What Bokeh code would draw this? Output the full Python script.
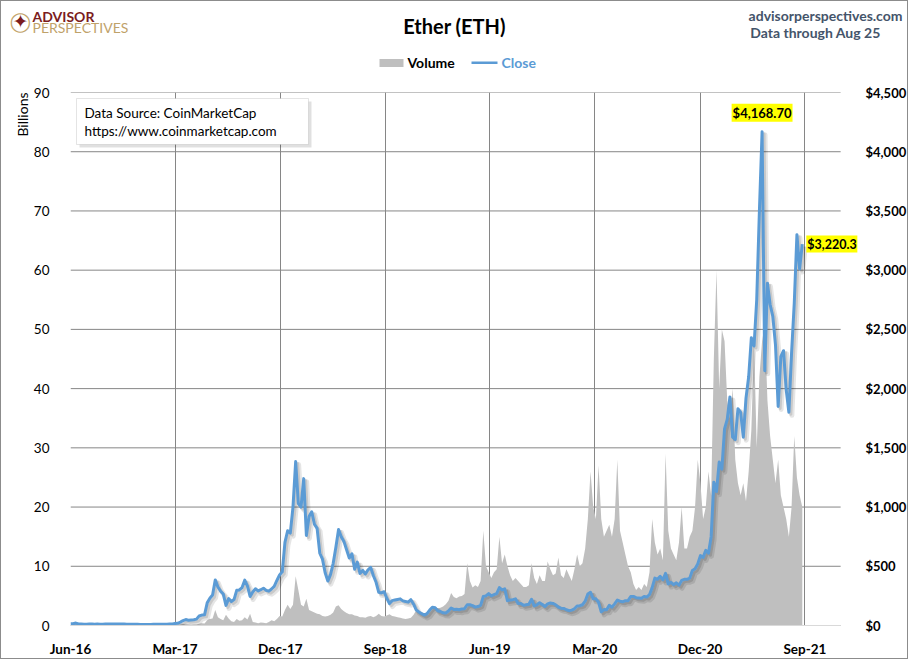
import numpy as np
import pandas as pd
from bokeh.plotting import figure
from bokeh.models import (Range1d, LinearAxis, FixedTicker, DatetimeTickFormatter,
                          NumeralTickFormatter, Label, BoxAnnotation, ColumnDataSource, Title)
from bokeh.transform import dodge
from bokeh.embed import file_html
from bokeh.resources import INLINE

# ---------------- data (weekly) ----------------
# Ether close price, USD, weekly from 2016-06-01 to 2021-08-25
close_2016 = [
    14.0, 14.6, 20.6, 13.4, 12.5,      # Jun
    10.5, 11.2, 12.6, 12.9,            # Jul
    10.1, 11.8, 10.8, 11.0, 11.9,      # Aug
    11.7, 12.0, 13.1, 13.2,            # Sep
    12.6, 11.8, 12.0, 11.2,            # Oct
    10.8, 10.5, 10.0, 9.7, 8.6,        # Nov
    8.4, 8.2, 7.6, 7.9,                # Dec
]
close_2017 = [
    11.0, 9.9, 10.4, 10.5,             # Jan
    10.7, 11.4, 12.9, 12.7,            # Feb
    16.3, 18.9, 28.6, 41.6, 50.0,      # Mar
    44.6, 46.6, 48.3, 53.7,            # Apr
    80.0, 88.0, 90.0, 191.0, 230.0,    # May
    258.0, 385.0, 325.0, 290.0,        # Jun
    265.0, 170.0, 227.0, 202.0,        # Jul
    219.0, 297.0, 300.0, 320.0, 383.0, # Aug
    335.0, 245.0, 283.0, 310.0,        # Sep
    292.0, 302.0, 315.0, 297.0,        # Oct
    290.0, 308.0, 330.0, 380.0, 427.0, # Nov
    453.0, 702.0, 800.0, 780.0,        # Dec
]
close_2018 = [
    1000.0, 1384.0, 1030.0, 1000.0, 1240.0,  # Jan
    760.0, 920.0, 960.0, 855.0,              # Feb
    820.0, 610.0, 560.0, 445.0,              # Mar
    375.0, 430.0, 525.0, 660.0,              # Apr
    810.0, 750.0, 710.0, 640.0, 570.0,       # May
    605.0, 475.0, 535.0, 440.0,              # Jun
    465.0, 435.0, 470.0, 490.0,              # Jul
    420.0, 365.0, 280.0, 275.0, 285.0,       # Aug
    230.0, 185.0, 210.0, 215.0,              # Sep
    220.0, 225.0, 208.0, 203.0, 197.0,       # Oct
    218.0, 180.0, 130.0, 115.0,              # Nov
    100.0, 88.0, 100.0, 130.0,               # Dec
]
close_2019 = [
    155.0, 150.0, 125.0, 118.0, 107.0,  # Jan
    105.0, 122.0, 148.0, 136.0,         # Feb
    137.0, 133.0, 140.0, 142.0,         # Mar
    175.0, 175.0, 168.0, 155.0,         # Apr
    160.0, 170.0, 245.0, 250.0, 270.0,  # May
    250.0, 260.0, 270.0, 320.0,         # Jun
    300.0, 310.0, 210.0, 215.0, 218.0,  # Jul
    225.0, 185.0, 185.0, 170.0,         # Aug
    175.0, 180.0, 222.0, 166.0,         # Sep
    175.0, 192.0, 177.0, 160.0, 183.0,  # Oct
    190.0, 186.0, 175.0, 155.0,         # Nov
    146.0, 144.0, 133.0, 125.0,         # Dec
]
close_2020 = [
    130.0, 141.0, 165.0, 167.0, 175.0,  # Jan
    205.0, 265.0, 280.0, 225.0,         # Feb
    225.0, 195.0, 115.0, 135.0,         # Mar
    133.0, 170.0, 155.0, 183.0, 215.0,  # Apr
    205.0, 200.0, 210.0, 210.0,         # May
    245.0, 245.0, 235.0, 233.0,         # Jun
    230.0, 245.0, 240.0, 260.0, 320.0,  # Jul
    400.0, 390.0, 415.0, 385.0,         # Aug
    440.0, 350.0, 365.0, 345.0, 360.0,  # Sep
    340.0, 380.0, 390.0, 390.0,         # Oct
    400.0, 465.0, 480.0, 520.0,         # Nov
    590.0, 575.0, 635.0, 610.0, 750.0,  # Dec
]
close_2021 = [
    1210.0, 1130.0, 1380.0, 1320.0,          # Jan
    1660.0, 1740.0, 1930.0, 1590.0,          # Feb
    1570.0, 1830.0, 1800.0, 1590.0, 1920.0,  # Mar
    2100.0, 2430.0, 2360.0, 2750.0,          # Apr
    3500.0, 4168.70, 2150.0, 2890.0,         # May
    2710.0, 2610.0, 2370.0, 1850.0, 2270.0,  # Jun
    2320.0, 1990.0, 1800.0, 2300.0,          # Jul
    2720.0, 3300.0, 3010.0, 3220.30,         # Aug
]

# Trading volume, billions USD, same weeks
vol_2016 = [
    0.05, 0.04, 0.20, 0.15, 0.06,
    0.04, 0.03, 0.04, 0.06,
    0.03, 0.02, 0.02, 0.02, 0.02,
    0.02, 0.02, 0.02, 0.03,
    0.02, 0.02, 0.02, 0.02,
    0.02, 0.02, 0.02, 0.02, 0.02,
    0.02, 0.02, 0.02, 0.02,
]
vol_2017 = [
    0.02, 0.02, 0.02, 0.02,
    0.02, 0.03, 0.03, 0.03,
    0.05, 0.08, 0.15, 0.25, 0.20,
    0.15, 0.12, 0.15, 0.18,
    0.30, 0.40, 0.35, 0.90, 1.10,
    1.20, 2.60, 1.40, 1.10,
    0.90, 1.80, 1.20, 0.70,
    0.60, 1.10, 0.80, 0.90, 1.40,
    1.00, 2.00, 0.60, 0.50,
    0.40, 0.50, 0.45, 0.40,
    0.60, 0.90, 0.70, 1.10, 1.60,
    1.50, 2.60, 3.50, 2.80,
]
vol_2018 = [
    3.50, 8.30, 6.00, 3.50, 3.20,
    4.50, 2.60, 2.40, 2.20,
    2.00, 1.90, 1.60, 1.50,
    1.60, 1.80, 2.20, 3.20,
    3.40, 2.80, 2.40, 2.10, 1.90,
    1.90, 1.70, 1.60, 1.40,
    1.40, 1.30, 1.50, 1.60,
    1.40, 1.60, 2.00, 1.60, 1.50,
    1.70, 1.90, 1.60, 1.50,
    1.40, 1.30, 1.20, 1.10, 1.20,
    1.30, 1.80, 2.60, 2.20,
    1.90, 1.70, 2.30, 2.60,
]
vol_2019 = [
    2.80, 3.20, 2.90, 3.00, 3.20,
    3.60, 4.20, 5.50, 4.80,
    4.60, 4.90, 5.00, 5.30,
    10.50, 7.50, 6.40, 6.80,
    6.50, 7.50, 16.00, 10.00, 9.00,
    8.00, 9.00, 9.50, 15.00,
    10.50, 12.00, 10.00, 8.50, 7.50,
    8.00, 7.50, 7.00, 6.50,
    6.50, 6.80, 10.50, 8.00,
    7.00, 8.50, 7.50, 7.50, 10.80,
    9.50, 8.50, 8.80, 11.50,
    8.50, 8.00, 9.50, 8.50,
]
vol_2020 = [
    7.50, 9.50, 12.00, 10.00, 10.50,
    13.00, 18.00, 26.00, 20.00,
    18.00, 27.00, 18.00, 15.00,
    16.00, 17.00, 15.00, 18.00, 28.00,
    16.00, 14.00, 12.00, 10.00,
    9.00, 7.00, 6.00, 6.50,
    6.00, 7.00, 6.50, 9.00, 18.00,
    14.00, 12.00, 13.00, 11.00,
    29.00, 16.00, 13.00, 12.00, 11.00,
    14.00, 20.00, 13.00, 13.00,
    15.00, 16.00, 20.00, 28.00,
    24.00, 18.00, 20.00, 26.00, 22.00,
]
vol_2021 = [
    45.00, 60.00, 40.00, 50.00,
    48.00, 38.00, 35.00, 40.00,
    28.00, 24.00, 22.00, 24.00, 21.00,
    26.00, 33.00, 48.00, 30.00,
    42.00, 48.00, 51.00, 38.00,
    32.00, 28.00, 24.00, 28.00, 22.00,
    20.00, 18.00, 15.00, 20.00,
    32.00, 25.00, 22.00, 20.00,
]

tick_labels = ["Jun-16", "Mar-17", "Dec-17", "Sep-18", "Jun-19", "Mar-20", "Dec-20", "Sep-21"]
left_ticks = [0, 10, 20, 30, 40, 50, 60, 70, 80, 90]
right_ticks = [0, 500, 1000, 1500, 2000, 2500, 3000, 3500, 4000, 4500]

close = close_2016 + close_2017 + close_2018 + close_2019 + close_2020 + close_2021
volume = vol_2016 + vol_2017 + vol_2018 + vol_2019 + vol_2020 + vol_2021
dates = pd.date_range("2016-06-01", periods=len(close), freq="7D")
src = ColumnDataSource(dict(date=dates, close=close, volume=volume))

FONT = "Lato"
BORDER = "1px solid #8c8c8c"

# ---------------- geometry (page pixels) ----------------
W = 908                      # inner width (1px border each side)
HH = 80                      # header height
MH = 579                     # main figure height
F_LEFT, F_RIGHT, F_TOP, F_BOT = 70, 864, 93, 626   # plot frame in page px
GRID_RIGHT = 847             # horizontal gridlines end here
FW = F_RIGHT - F_LEFT
FH = F_BOT - F_TOP

x_start = pd.Timestamp("2016-06-01")
t_sep21 = pd.Timestamp("2021-09-01")
px_per_day = (811 - F_LEFT) / (t_sep21 - x_start).days
x_end = x_start + pd.Timedelta(days=FW / px_per_day)
grid_end = x_start + pd.Timedelta(days=(GRID_RIGHT - F_LEFT) / px_per_day)
ms = lambda t: t.value / 1e6

# ---------------- header figure (separate root, frame = whole canvas) ----------------
h = figure(width=W, height=HH, x_range=Range1d(0, W), y_range=Range1d(0, HH),
           output_backend="svg", toolbar_location=None, min_border=0,
           x_axis_location=None, y_axis_location=None,
           background_fill_color="white", border_fill_color="white",
           styles={"border-top": BORDER, "border-left": BORDER, "border-right": BORDER})
h.outline_line_color = None
h.xgrid.visible = False
h.ygrid.visible = False

def hl(px, py, text, **kw):
    opts = dict(x=px - 1, y=HH + 1 - py, text=text, text_font=FONT, text_font_size="14px",
                text_color="black", text_baseline="middle", text_align="left")
    opts.update(kw)
    h.add_layout(Label(**opts))

def hbox(l, r, t, b, **kw):
    opts = dict(left=l - 1, right=r - 1, top=HH + 1 - t, bottom=HH + 1 - b,
                line_color=None, fill_alpha=1)
    opts.update(kw)
    h.add_layout(BoxAnnotation(**opts))

hl(454, 25, "Ether (ETH)", text_align="center", text_font_size="20px", text_font_style="bold")
hl(902, 15, "advisorperspectives.com", text_align="right", text_font_size="14px",
   text_font_style="bold", text_color="#44546A")
hl(815, 32, "Data through Aug 25", text_align="center", text_font_size="14px",
   text_font_style="bold", text_color="#44546A")
# logo (compass mark + two-line name)
hl(20, 20, "◯", text_align="center", text_font="DejaVu Sans", text_font_size="19px",
   text_color="#C2A46A")
hl(20, 20, "✦", text_align="center", text_font="DejaVu Sans", text_font_size="19px",
   text_color="#7B1C20")
hl(32, 16, "ADVISOR", text_font_size="14px", text_font_style="bold", text_color="#7B1C20")
hl(32, 27, "PERSPECTIVES", text_font_size="14px", text_color="#BFA26A")
# legend
hbox(379, 403, 58.5, 66.5, fill_color="#BFBFBF")
hl(407, 62, "Volume", text_font_style="bold")
hbox(471, 497, 61, 63.5, fill_color="#5B9BD5")
hl(501, 62, "Close", text_font_style="bold", text_color="#5B9BD5")

# ---------------- main figure ----------------
p = figure(width=W, height=MH, x_axis_type="datetime",
           x_range=Range1d(x_start, x_end), y_range=Range1d(0, 90),
           output_backend="svg", toolbar_location=None,
           min_border_left=F_LEFT - 1, min_border_right=W + 1 - F_RIGHT,
           min_border_top=F_TOP - 1 - HH, min_border_bottom=MH + HH + 1 - F_BOT,
           background_fill_color="white", border_fill_color="white",
           styles={"border-bottom": BORDER, "border-left": BORDER, "border-right": BORDER})
p.outline_line_color = None
p.extra_y_ranges = {"price": Range1d(0, 4500)}

tick_ms = [ms(pd.to_datetime(t, format="%b-%y")) for t in tick_labels]
xt = FixedTicker(ticks=tick_ms)
p.xaxis.ticker = xt
p.xgrid.ticker = xt
fmt = "%b-%y"
p.xaxis.formatter = DatetimeTickFormatter(days=fmt, months=fmt, years=fmt, hours=fmt,
                                          hourmin=fmt, minutes=fmt, minsec=fmt, seconds=fmt,
                                          milliseconds=fmt, microseconds=fmt)
p.yaxis.ticker = FixedTicker(ticks=left_ticks)

raxis = LinearAxis(y_range_name="price", ticker=FixedTicker(ticks=right_ticks),
                   formatter=NumeralTickFormatter(format="$0,0"))
p.add_layout(raxis, "right")

for ax in [p.xaxis[0], p.yaxis[0], raxis]:
    ax.major_tick_line_color = None
    ax.minor_tick_line_color = None
    ax.major_label_text_font = FONT
    ax.major_label_text_font_size = "13.5px"
    ax.major_label_text_color = "black"
p.yaxis[0].axis_line_color = None
raxis.axis_line_color = None
raxis.major_label_text_font_size = "13px"
p.xaxis.axis_line_color = "#D9D9D9"
p.xaxis.bounds = (ms(x_start), ms(grid_end))
p.xaxis.major_label_text_font_style = "bold"
raxis.major_label_text_font_style = "bold"
p.xaxis.major_label_standoff = 9
p.yaxis[0].major_label_standoff = 15
raxis.major_label_standoff = 2

p.xgrid.grid_line_color = "#868686"
p.ygrid.visible = False
p.add_layout(Title(text="Billions", align="right", text_font=FONT, text_font_size="14px",
                   text_font_style="normal", text_color="black", standoff=0), "left")

# horizontal gridlines (stop short of the frame's right edge, as in the original)
n = len(left_ticks)
p.segment(x0=[ms(x_start)] * n, x1=[ms(grid_end)] * n, y0=left_ticks, y1=left_ticks,
          line_color="#868686", line_width=1, level="underlay")

# ---------------- glyphs ----------------
p.varea(x="date", y1=0, y2="volume", source=src, fill_color="#BFBFBF")

ms_per_px = 86400000 / px_per_day
usd_per_px = 4500 / FH
p.line(x=dodge("date", 3 * ms_per_px), y=dodge("close", -3 * usd_per_px), source=src,
       y_range_name="price", line_color="black", line_alpha=0.10, line_width=5,
       line_join="round")
p.line(x=dodge("date", 2 * ms_per_px), y=dodge("close", -2 * usd_per_px), source=src,
       y_range_name="price", line_color="black", line_alpha=0.12, line_width=3,
       line_join="round")
p.line(x="date", y="close", source=src, y_range_name="price",
       line_color="#5B9BD5", line_width=3, line_join="round")

# data labels
i_max = int(np.argmax(close))
p.add_layout(Label(x=ms(dates[i_max]), y=close[i_max], y_range_name="price",
                   text=f"${close[i_max]:,.2f}", text_align="center", text_baseline="bottom",
                   y_offset=10, text_font=FONT, text_font_size="13px", text_font_style="bold",
                   text_color="black", background_fill_color="#FFFF00", padding=1))
p.add_layout(Label(x=ms(dates[-1]), y=close[-1], y_range_name="price",
                   text=f"${close[-1]:,.1f}", text_align="left", text_baseline="middle",
                   x_offset=4, text_font=FONT, text_font_size="12.5px", text_font_style="bold",
                   text_color="black", background_fill_color="#FFFF00", padding=1))

# data source box (screen units relative to the frame)
def scr_box(l, r, b, t, **kw):
    opts = dict(left=l, right=r, bottom=b, top=t, left_units="screen", right_units="screen",
                bottom_units="screen", top_units="screen")
    opts.update(kw)
    p.add_layout(BoxAnnotation(**opts))

def scr_label(x, y, text, **kw):
    opts = dict(x=x, y=y, x_units="screen", y_units="screen", text=text,
                text_font=FONT, text_font_size="14px", text_color="black",
                text_baseline="middle", text_align="left")
    opts.update(kw)
    p.add_layout(Label(**opts))

bl, br, bt, bb = 76 - F_LEFT, 308 - F_LEFT, F_BOT - 99, F_BOT - 145
scr_box(bl + 3, br + 3, bb - 3, bt - 3, fill_color="black", fill_alpha=0.12, line_color=None)
scr_box(bl, br, bb, bt, fill_color="white", fill_alpha=1, line_color="#A6A6A6", line_width=1)
scr_label(84 - F_LEFT, F_BOT - 113, "Data Source: CoinMarketCap", text_font_size="13.5px")
scr_label(84 - F_LEFT, F_BOT - 131, "https://www.coinmarketcap.com", text_font_size="13.5px")

open("out.html", "w").write(file_html([h, p], INLINE))
